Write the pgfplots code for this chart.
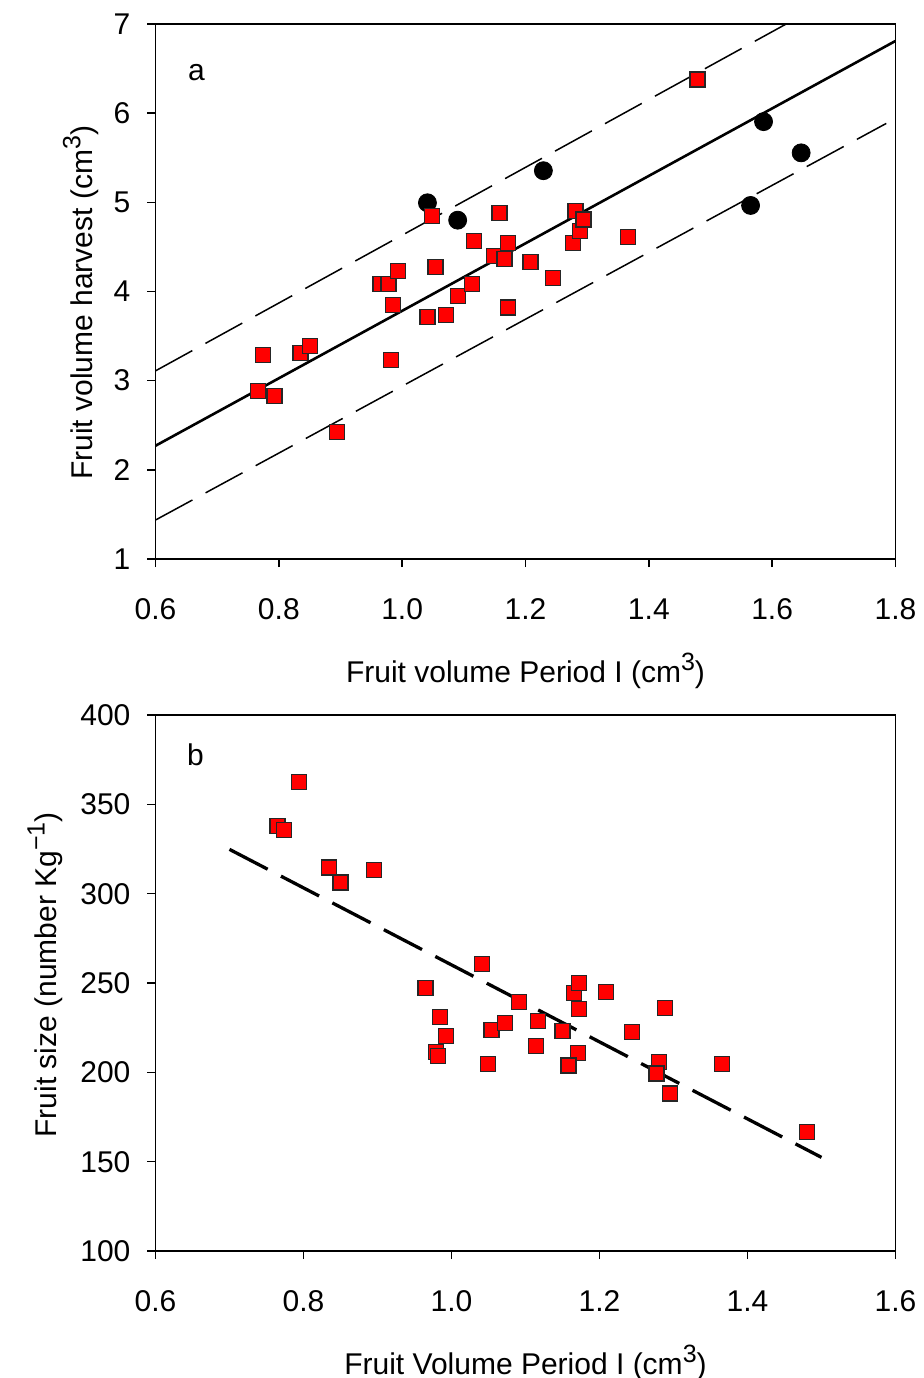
\documentclass[border=0pt]{standalone}
\usepackage{fontspec}
\setmainfont{Liberation Sans}
\usepackage{pgfplots}
\pgfplotsset{compat=1.18}
\newcommand\sups[1]{\raisebox{0.4em}{\fontsize{12.5}{14}\selectfont #1}}
\pgfplotsset{
  common/.style={
    scale only axis, width=370pt,
    axis line style={line width=0.8pt},
    tick style={line width=0.8pt, black},
    tick align=outside, tick pos=left, major tick length=4pt,
    /pgf/number format/assume math mode=true,
    tick label style={font=\fontsize{15}{18}\selectfont},
    xticklabel style={anchor=base, yshift=-26pt},
    yticklabel style={xshift=-5pt},
    label style={font=\fontsize{15}{18}\selectfont},
    xlabel style={at={(axis description cs:0.5,0)}, anchor=base, yshift=-61.5pt},
  },
  redsq/.style={only marks, mark=square*, mark size=3.75pt,
    mark options={fill=red, draw=black!85, line width=0.6pt}},
  blk/.style={only marks, mark=*, mark size=4.5pt,
    mark options={fill=black, draw=black}},
}
\begin{document}
\begin{tikzpicture}[font=\fontsize{15}{18}\selectfont]
\path[use as bounding box] (-77.75pt,-409.5pt) rectangle (384.25pt,279.5pt);
% ---------------- panel a ----------------
\begin{axis}[common, height=267.5pt,
  xmin=0.6, xmax=1.8, ymin=1, ymax=7,
  xtick={0.6,0.8,1.0,1.2,1.4,1.6,1.8},
  ytick={1,2,3,4,5,6,7},
  xticklabel style={/pgf/number format/.cd, fixed, fixed zerofill, precision=1},
  xlabel={Fruit volume Period I (cm\sups{3})},
  ylabel={Fruit volume harvest (cm\sups{3})},
  ylabel style={at={(axis description cs:-0.101,0.479)}, anchor=center},
]
\addplot[black, line width=1.3pt] coordinates {(0.6,2.27) (1.8,6.81)};
\addplot[black, line width=0.75pt, dash pattern=on 21pt off 7.5pt] coordinates {(0.6,3.11) (1.6227,7.0)};
\addplot[black, line width=0.75pt, dash pattern=on 21pt off 7.5pt] coordinates {(0.6,1.437) (1.785,5.885)};
\addplot[blk] coordinates {
(1.041,4.995) (1.090,4.800) (1.229,5.355) (1.565,4.965) (1.586,5.905) (1.647,5.555)
};
\addplot[redsq] coordinates {
(0.766,2.887) (0.774,3.287) (0.793,2.831) (0.835,3.313) (0.850,3.391)
(0.894,2.420) (0.965,4.080) (0.978,4.080) (0.985,3.845) (0.993,4.232)
(0.982,3.231) (1.041,3.715) (1.049,4.845) (1.054,4.277) (1.071,3.738)
(1.090,3.948) (1.116,4.568) (1.113,4.080) (1.149,4.397) (1.158,4.882)
(1.166,4.367) (1.171,4.546) (1.171,3.820) (1.208,4.333) (1.244,4.147)
(1.277,4.546) (1.281,4.905) (1.289,4.677) (1.294,4.808) (1.366,4.607)
(1.479,6.378)
};
\node at (axis cs:0.6665,6.46) {a};
\end{axis}
% ---------------- panel b ----------------
\begin{axis}[common, height=268pt, at={(0pt,-346pt)},
  xmin=0.6, xmax=1.6, ymin=100, ymax=400,
  xtick={0.6,0.8,1.0,1.2,1.4,1.6},
  ytick={100,150,200,250,300,350,400},
  xticklabel style={/pgf/number format/.cd, fixed, fixed zerofill, precision=1},
  xlabel={Fruit Volume Period I (cm\sups{3})},
  ylabel={Fruit size (number Kg\sups{−1})},
  ylabel style={at={(axis description cs:-0.149,0.515)}, anchor=center},
]
\addplot[redsq] coordinates {
(0.794,362.5) (0.765,337.8) (0.774,335.6) (0.834,314.7) (0.850,306.3)
(0.895,313.4) (0.965,247.3) (0.985,230.8) (0.993,220.5) (0.979,211.5)
(0.982,209.1) (1.041,260.6) (1.049,204.5) (1.054,223.7) (1.072,227.8)
(1.091,239.3) (1.117,228.8) (1.114,214.7) (1.150,223.1) (1.171,211.0)
(1.158,203.8) (1.165,244.6) (1.172,250.2) (1.172,235.6) (1.209,245.1)
(1.244,222.4) (1.288,235.8) (1.280,205.9) (1.277,199.4) (1.295,188.2)
(1.365,204.8) (1.480,166.4)
};
\addplot[black, line width=1.65pt, dash pattern=on 21.5pt off 7.5pt] coordinates {(0.70,324.8) (1.50,152.4)};
\node at (axis cs:0.654,377.6) {b};
\end{axis}
\end{tikzpicture}
\end{document}
